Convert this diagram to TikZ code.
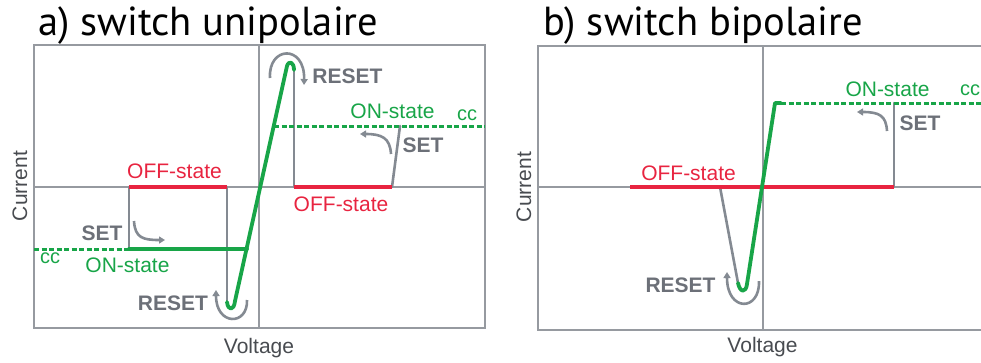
\documentclass[tikz,border=0pt]{standalone}
\usepackage{fontspec}
\setmainfont{Liberation Sans}
\newfontfamily\titlefont{PT Sans}
\usetikzlibrary{arrows.meta}
\definecolor{gline}{RGB}{132,138,146}
\definecolor{axc}{RGB}{150,154,160}
\definecolor{grn}{RGB}{24,165,72}
\definecolor{rd}{RGB}{232,36,64}
\definecolor{gtext}{RGB}{108,112,120}
\definecolor{dtext}{RGB}{72,75,80}
\tikzset{
  frame/.style={draw=axc, line width=1.8pt},
  axisline/.style={draw=axc, line width=1.8pt},
  grayline/.style={draw=gline, line width=2.6pt, line cap=round},
  onsolid/.style={draw=grn, line width=3.8pt, line join=round, line cap=round},
  ondash/.style={draw=grn, line width=3pt, dash pattern=on 5pt off 2.5pt},
  offline/.style={draw=rd, line width=4pt},
  turnarrow/.style={draw=gline, line width=2.6pt, -{Triangle[length=6pt,width=7pt]}},
  lab/.style={inner sep=0pt, anchor=base, font=\fontsize{21}{24}\selectfont},
  graylab/.style={lab, text=gtext, font=\fontsize{21}{24}\selectfont\bfseries},
  redlab/.style={lab, text=rd},
  grnlab/.style={lab, text=grn},
  cclab/.style={lab, text=grn, font=\fontsize{20}{22}\selectfont},
  axlab/.style={lab, text=dtext},
  titlelab/.style={inner sep=0pt, anchor=base west, text=black, font=\titlefont\fontsize{40.5}{44}\selectfont},
}
\begin{document}
\begin{tikzpicture}[x=1pt, y=-1pt]
\useasboundingbox (0,0) rectangle (981,362);
% ---------------- titles
\node[titlelab] (ta) at (38,35) {a) switch unipolaire};
\node[titlelab] (tb) at (543,35) {b) switch bipolaire};

% ================= panel a
\coordinate (aTL) at (34,45);
\coordinate (aBR) at (485,328);
\draw[frame] (aTL) rectangle (aBR);
\coordinate (aVT) at (259,45);
\coordinate (aVB) at (259,328);
\coordinate (aHL) at (34,187);
\coordinate (aHR) at (485,187);
\draw[axisline] (aVT) -- (aVB);
\draw[axisline] (aHL) -- (aHR);

\coordinate (aSetTop) at (129,187);
\coordinate (aSetBot) at (129,249);
\coordinate (aOffR) at (227,187);
\coordinate (aDip) at (227,302);
\coordinate (aDipUp) at (235,301);
\coordinate (aDash0) at (34,249);
\coordinate (aOnR) at (247,249);
\coordinate (aPeakL) at (287,66);
\coordinate (aPeakR) at (294,70);
\coordinate (aOff2L) at (294,187);
\coordinate (aOff2R) at (392,187);
\coordinate (aSet2) at (400,126);
\coordinate (aOn2L) at (274,126);
\coordinate (aOn2R) at (485,126);

\draw[grayline] (aSetTop) -- (aSetBot);
\draw[grayline] (aOffR) -- (aDip);
\draw[grayline] (aPeakR) -- (aOff2L);
\draw[grayline] (aOff2R) -- (aSet2);
\draw[offline] (aSetTop) -- (aOffR);
\draw[offline] (aOff2L) -- (aOff2R);
\draw[ondash] (aDash0) -- (aSetBot);
\draw[ondash] (aOn2L) -- (aOn2R);
\draw[onsolid] (aSetBot) -- (aOnR);
\draw[onsolid] (aDip) .. controls (228,311) and (234,311) .. (aDipUp) -- (aPeakL)
   .. controls (289,60) and (294,62) .. (aPeakR);

% curved arrows
\coordinate (aR1s) at (270,78);
\coordinate (aR1e) at (304,85);
\draw[turnarrow] (aR1s) .. controls (268,46) and (305,44) .. (aR1e);
\coordinate (aR2s) at (247,300);
\coordinate (aR2e) at (216,290);
\draw[turnarrow] (aR2s) .. controls (248,326) and (216,326) .. (aR2e);
\coordinate (aS1s) at (134,221);
\coordinate (aS1e) at (165,240);
\draw[turnarrow] (aS1s) .. controls (135,238) and (143,240) .. (aS1e);
\coordinate (aS2s) at (391,154);
\coordinate (aS2e) at (360,134);
\draw[turnarrow] (aS2s) .. controls (390,138) and (382,134) .. (aS2e);

% labels
\node[redlab] (aoff1) at (174.5,178) {OFF-state};
\node[redlab] (aoff2) at (341,211) {OFF-state};
\node[grnlab] (aon1) at (127.5,272) {ON-state};
\node[grnlab] (aon2) at (392.5,118) {ON-state};
\node[cclab] (acc1) at (50,263) {cc};
\node[cclab] (acc2) at (467,120) {cc};
\node[graylab] (areset1) at (347.5,83) {RESET};
\node[graylab] (areset2) at (173,310) {RESET};
\node[graylab] (aset1) at (102,240) {SET};
\node[graylab] (aset2) at (423,152) {SET};
\node[axlab, rotate=90] (acur) at (27,186) {Current};
\node[axlab] (avol) at (259,353) {Voltage};

% ================= panel b
\coordinate (bT0) at (990,46);
\coordinate (bTL) at (538,46);
\coordinate (bBL) at (538,330);
\coordinate (bB0) at (990,330);
\draw[frame] (bT0) -- (bTL) -- (bBL) -- (bB0);
\coordinate (bVT) at (763,46);
\coordinate (bVB) at (763,330);
\coordinate (bHL) at (538,187);
\coordinate (bHR) at (990,187);
\draw[axisline] (bVT) -- (bVB);
\draw[axisline] (bHL) -- (bHR);

\coordinate (bOffL) at (630,187);
\coordinate (bOffR) at (894,187);
\coordinate (bSetTop) at (894,103);
\coordinate (bRs) at (720,187);
\coordinate (bDip) at (738,283);
\coordinate (bDipUp) at (747,284);
\coordinate (bCorner) at (775,103);
\coordinate (bOnE) at (781,103);
\coordinate (bOnR) at (990,103);

\draw[grayline] (bOffR) -- (bSetTop);
\draw[grayline] (bRs) -- (bDip);
\draw[offline] (bOffL) -- (bOffR);
\draw[ondash] (bOnE) -- (bOnR);
\draw[onsolid] (bDip) .. controls (740,293) and (746,293) .. (bDipUp) -- (bCorner) -- (bOnE);

\coordinate (bR1s) at (759,281);
\coordinate (bR1e) at (727,272);
\draw[turnarrow] (bR1s) .. controls (760,312) and (727,312) .. (bR1e);
\coordinate (bS1s) at (887,131);
\coordinate (bS1e) at (857,112);
\draw[turnarrow] (bS1s) .. controls (886,116) and (880,112) .. (bS1e);

\node[redlab] (boff) at (688.5,180) {OFF-state};
\node[grnlab] (bon) at (887.5,96) {ON-state};
\node[cclab, anchor=base west] (bcc) at (960,95) {cc};
\node[graylab] (breset) at (680.5,292) {RESET};
\node[graylab] (bset) at (920,130) {SET};
\node[axlab, rotate=90] (bcur) at (531,187) {Current};
\node[axlab] (bvol) at (762.5,352) {Voltage};
\end{tikzpicture}
\end{document}
